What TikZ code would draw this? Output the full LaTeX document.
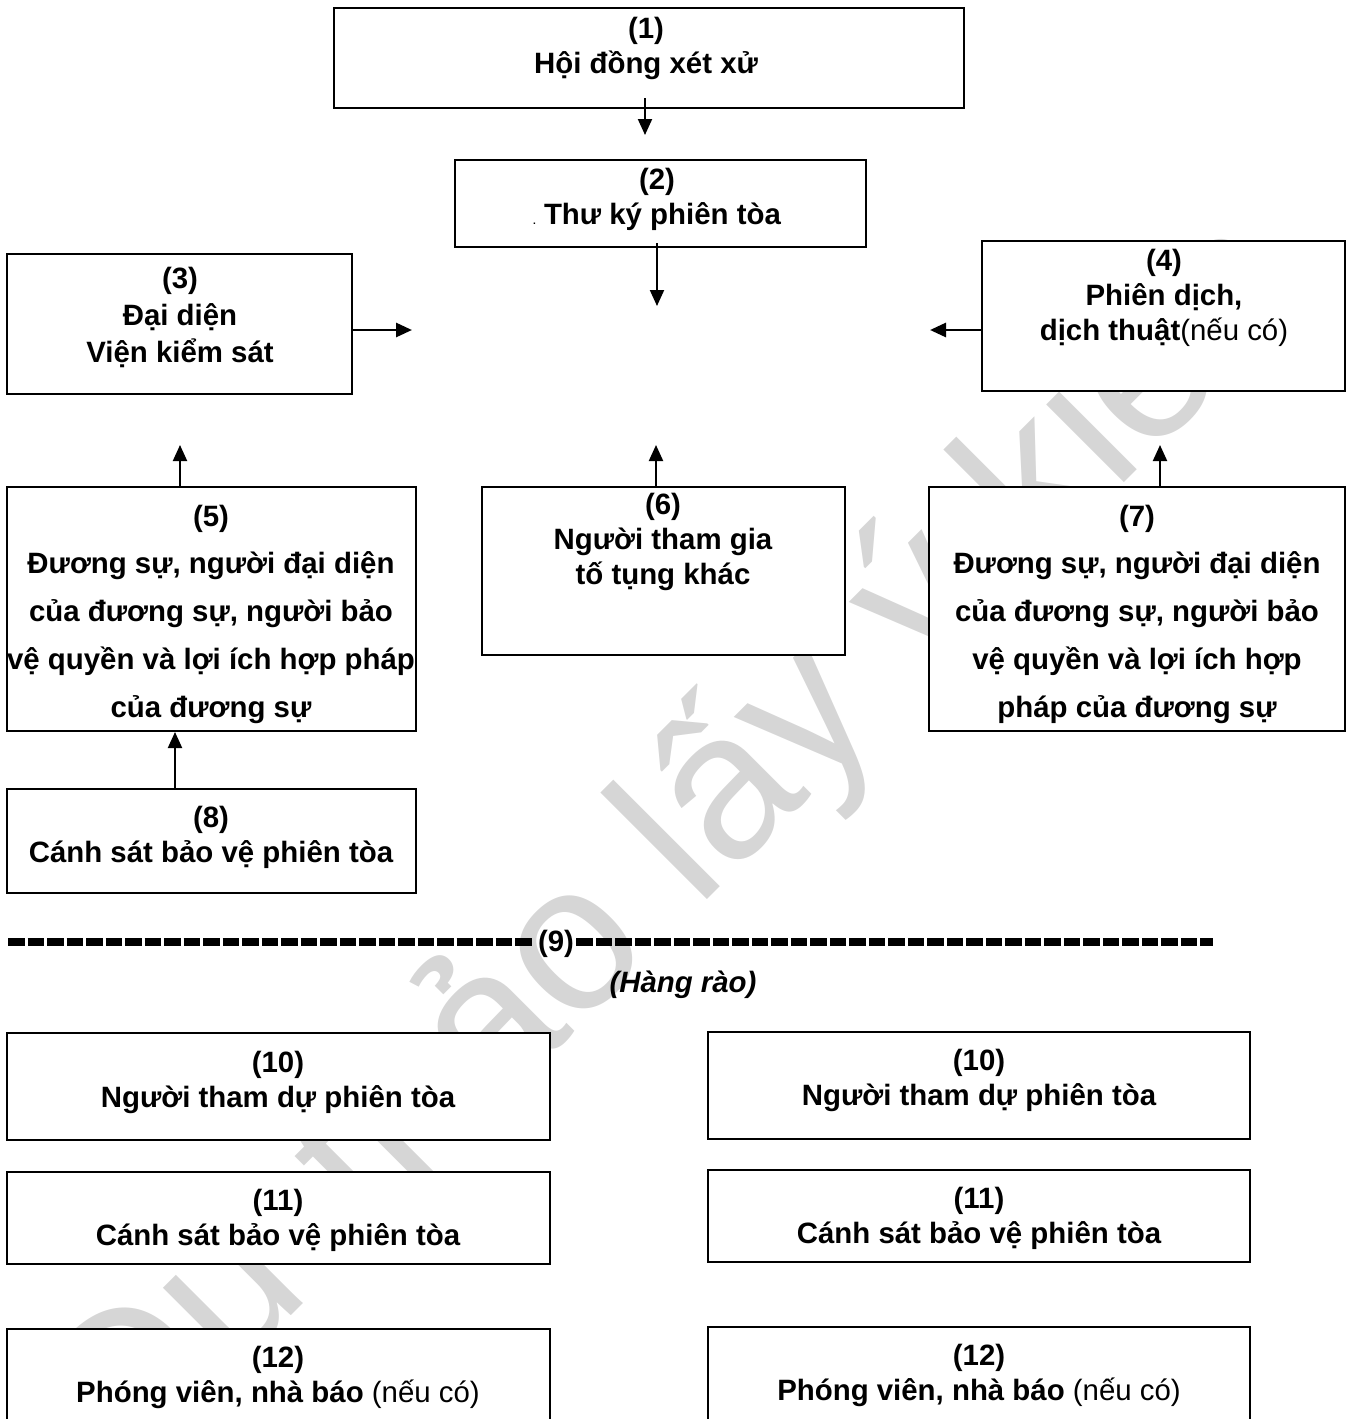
\documentclass[tikz,border=0pt]{standalone}
\usepackage{fontspec}
\setmainfont{Liberation Sans}
\usepackage{tikz}
\usetikzlibrary{arrows.meta}
\tikzset{
  box/.style={draw,fill=white,line width=1pt,inner sep=0pt},
  box text/.style={align=center,inner sep=0pt,font=\fontsize{14.7}{17.5}\selectfont\bfseries},
  arr/.style={line width=1pt,-{Triangle[length=8pt,width=7pt]}},
  wide arr/.style={arr,line width=1.4pt},
  fence/.style={line width=3.75pt,dash pattern=on 8.25pt off 1.5pt},
}
\colorlet{watermark}{black!16}

\begin{document}
\begin{tikzpicture}[x=0.5pt,y=-0.5pt]
\clip (0,0) rectangle (1352,1419);

\node[anchor=base,rotate=45,inner sep=0pt,text=watermark,font=\fontsize{104}{104}\selectfont] (duthao) at (718,889) {Dự thảo lấy ý kiến};

\node[box,minimum width=315pt,minimum height=50pt] (hdxx) at (649,58) {};
\node[box text] (hdxx-t) at (646,48) {(1)\\Hội đồng xét xử};

\node[box,minimum width=205.5pt,minimum height=43.5pt] (thuky) at (660.5,203.5) {};
\node[box text] (thuky-t) at (657,199.5) {(2)\\{\fontsize{5}{6}\selectfont.}\ Thư ký phiên tòa};

\node[box,minimum width=172.5pt,minimum height=70pt] (vks) at (179.5,324) {};
\node[box text] (vks-t) at (180,317) {(3)\\[1pt]Đại diện\\[1pt]Viện kiểm sát};

\node[box,minimum width=181.5pt,minimum height=75pt] (phiendich) at (1163.5,316) {};
\node[box text] (phiendich-t) at (1164,297.5) {(4)\\Phiên dịch,\\dịch thuật{\mdseries(nếu có)}};

\node[box,minimum width=204.5pt,minimum height=122pt] (duongsu-a) at (211.5,609) {};
\node[box text] (duongsu-a-t) at (211,614.5) {(5)\\[6pt]Đương sự, người đại diện\\[6.5pt]của đương sự, người bảo\\[6.5pt]vệ quyền và lợi ích hợp pháp\\[6.5pt]của đương sự};

\node[box,minimum width=181.5pt,minimum height=84pt] (khac) at (663.5,571) {};
\node[box text] (khac-t) at (663,542) {(6)\\Người tham gia\\tố tụng khác};

\node[box,minimum width=208pt,minimum height=122pt] (duongsu-b) at (1137,609) {};
\node[box text] (duongsu-b-t) at (1137,614.5) {(7)\\[6pt]Đương sự, người đại diện\\[6.5pt]của đương sự, người bảo\\[6.5pt]vệ quyền và lợi ích hợp\\[6.5pt]pháp của đương sự};

\node[box,minimum width=204.5pt,minimum height=52pt] (canhsat) at (211.5,841) {};
\node[box text] (canhsat-t) at (211,837) {(8)\\Cánh sát bảo vệ phiên tòa};

\coordinate (c-hdxx) at (645,135);
\coordinate (c-thuky) at (657,306);
\coordinate (c-vks) at (412,330);
\coordinate (c-phiendich) at (930,330);
\coordinate (c-duongsu-a) at (180,445);
\coordinate (c-khac) at (656,445);
\coordinate (c-duongsu-b) at (1160,445);

\draw[arr] ([xshift=-2pt,yshift=5.5pt]hdxx.south) -- (c-hdxx);
\draw[arr] ([xshift=-1.75pt,yshift=2.5pt]thuky.south) -- (c-thuky);
\draw[wide arr] ([yshift=-3pt]vks.east) -- (c-vks);
\draw[wide arr] ([yshift=-7pt]phiendich.west) -- (c-phiendich);
\draw[arr] ([xshift=-15.75pt]duongsu-a.north) -- (c-duongsu-a);
\draw[arr] ([xshift=-3.75pt]khac.north) -- (c-khac);
\draw[arr] ([xshift=11.5pt]duongsu-b.north) -- (c-duongsu-b);
\draw[arr] ([xshift=-18.25pt]canhsat.north) -- ([xshift=-18.25pt]duongsu-a.south);

\node[box text,inner xsep=1pt] (hangrao) at (556,944) {(9)};
\draw[fence] (8,942) -- ([xshift=-1pt,yshift=1pt]hangrao.west);
\draw[fence] ([yshift=1pt]hangrao.east) -- (1213,942);
\node[box text,font=\fontsize{14.7}{17.5}\selectfont\bfseries\itshape] (hangrao-t) at (683,985) {(Hàng rào)};

\node[box,minimum width=271.5pt,minimum height=53.5pt] (thamdu-a) at (278.5,1086.5) {};
\node[box text] (thamdu-a-t) at (278,1082.5) {(10)\\Người tham dự phiên tòa};
\node[box,minimum width=271pt,minimum height=53.5pt] (thamdu-b) at (979,1085.5) {};
\node[box text] (thamdu-b-t) at (979,1080) {(10)\\Người tham dự phiên tòa};

\node[box,minimum width=271.5pt,minimum height=46pt] (baove-a) at (278.5,1218) {};
\node[box text] (baove-a-t) at (278,1220) {(11)\\Cánh sát bảo vệ phiên tòa};
\node[box,minimum width=271pt,minimum height=46pt] (baove-b) at (979,1216) {};
\node[box text] (baove-b-t) at (979,1218) {(11)\\Cánh sát bảo vệ phiên tòa};

\node[box,minimum width=271.5pt,minimum height=60.5pt] (baochi-a) at (278.5,1389.5) {};
\node[box text] (baochi-a-t) at (278,1377) {(12)\\Phóng viên, nhà báo {\mdseries(nếu có)}};
\node[box,minimum width=271pt,minimum height=61.5pt] (baochi-b) at (979,1388.5) {};
\node[box text] (baochi-b-t) at (979,1375) {(12)\\Phóng viên, nhà báo {\mdseries(nếu có)}};
\end{tikzpicture}
\end{document}
